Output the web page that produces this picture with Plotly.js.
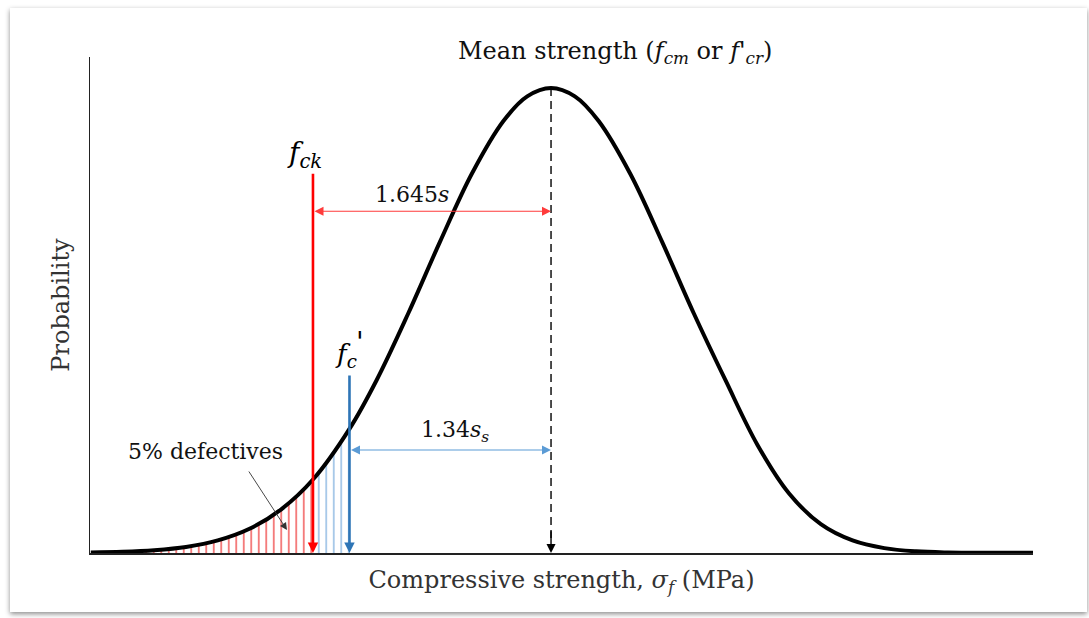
<!DOCTYPE html>
<html>
<head>
<meta charset="utf-8">
<script src="https://cdn.plot.ly/plotly-3.0.1.min.js"></script>
<style>
  html, body { margin: 0; padding: 0; background: #ffffff; }
  #frame {
    position: absolute; left: 10px; top: 8px; width: 1077px; height: 604px;
    background: #ffffff;
    box-shadow: 0 2px 5px rgba(0,0,0,0.45);
  }
</style>
</head>
<body>
<div id="frame"><div id="chart"></div></div>
<script>
// Compressive strength (MPa) sample points along the distribution
const strength = [11, 13, 15, 17, 19, 21, 23, 25, 27.3, 29, 31, 33, 35, 37, 38.5, 40,
                  41.5, 43, 45, 47, 49, 51, 53, 55, 57, 59, 61, 63, 65, 67, 70.4];
// Relative probability (peak = 1)
const probability = [0.001, 0.0025, 0.006, 0.013, 0.027, 0.052, 0.094, 0.158, 0.267, 0.371,
                     0.515, 0.669, 0.815, 0.929, 0.982, 1.0,
                     0.982, 0.929, 0.815, 0.669, 0.515, 0.371, 0.233, 0.128, 0.062, 0.027,
                     0.0105, 0.0036, 0.0011, 0.0003, 0.0005];

// Characteristic values
const fck = 25;       // characteristic strength
const fcPrime = 27.3; // specified strength
const fcm = 40;       // mean strength

const idxFck = strength.indexOf(fck);
const idxFc = strength.indexOf(fcPrime);

const serif = '"DejaVu Serif", "Liberation Serif", serif';

const traces = [
  // red hatching: region below f_ck
  {
    x: strength.slice(0, idxFck + 1), y: probability.slice(0, idxFck + 1),
    type: 'scatter', mode: 'lines', line: {width: 0, shape: 'spline'},
    fill: 'tozeroy', fillcolor: 'rgba(0,0,0,0)',
    fillpattern: {shape: '|', fgcolor: '#f04848', size: 7.5, solidity: 0.18},
    hoverinfo: 'skip', showlegend: false
  },
  // blue hatching: between f_ck and f'_c
  {
    x: strength.slice(idxFck, idxFc + 1), y: probability.slice(idxFck, idxFc + 1),
    type: 'scatter', mode: 'lines', line: {width: 0, shape: 'spline'},
    fill: 'tozeroy', fillcolor: 'rgba(0,0,0,0)',
    fillpattern: {shape: '|', fgcolor: '#86b4e0', size: 7.5, solidity: 0.18},
    hoverinfo: 'skip', showlegend: false
  },
  // the distribution curve
  {
    x: strength, y: probability, type: 'scatter', mode: 'lines',
    line: {color: '#000000', width: 4, shape: 'spline'},
    hoverinfo: 'skip', showlegend: false
  }
];

const yTop = 1.0667;

const annotations = [
  // f_ck marker
  {x: fck, y: 0, ax: fck, ay: 0.819, axref: 'x', ayref: 'y', xref: 'x', yref: 'y',
   text: '', showarrow: true, arrowhead: 2, arrowsize: 0.8, arrowwidth: 2.6, arrowcolor: '#ff0000'},
  // f'_c marker
  {x: fcPrime, y: 0, ax: fcPrime, ay: 0.385, axref: 'x', ayref: 'y', xref: 'x', yref: 'y',
   text: '', showarrow: true, arrowhead: 2, arrowsize: 0.8, arrowwidth: 2.6, arrowcolor: '#2e75b6'},
  // mean arrowhead
  {x: fcm, y: 0, ax: fcm, ay: 0.05, axref: 'x', ayref: 'y', xref: 'x', yref: 'y',
   text: '', showarrow: true, arrowhead: 2, arrowsize: 1.3, arrowwidth: 1.4, arrowcolor: '#000000'},
  // 1.645s span
  {x: fcm, y: 0.735, ax: fck, ay: 0.735, axref: 'x', ayref: 'y', xref: 'x', yref: 'y',
   text: '', showarrow: true, arrowside: 'end+start', arrowhead: 2, arrowsize: 1.5, arrowwidth: 1.2, arrowcolor: '#ff3b3b'},
  // 1.34 s_s span
  {x: fcm, y: 0.2215, ax: fcPrime, ay: 0.2215, axref: 'x', ayref: 'y', xref: 'x', yref: 'y',
   text: '', showarrow: true, arrowside: 'end+start', arrowhead: 2, arrowsize: 1.5, arrowwidth: 1.2, arrowcolor: '#5b9bd5'},
  // pointer to the defective tail
  {x: 23.36, y: 0.0495, ax: 20.9, ay: 0.1785, axref: 'x', ayref: 'y', xref: 'x', yref: 'y',
   text: '', showarrow: true, arrowhead: 2, arrowsize: 1.6, arrowwidth: 0.9, arrowcolor: '#333333'},

  // labels
  {x: 24.45, y: 0.856, xref: 'x', yref: 'y', showarrow: false,
   text: '<i>f</i><sub><i>ck</i></sub>', font: {family: serif, size: 28, color: '#000'}},
  {x: 31.24, y: 0.772, xref: 'x', yref: 'y', showarrow: false,
   text: '1.645<i>s</i>', font: {family: serif, size: 22, color: '#111'}},
  {x: 27.1, y: 0.425, xref: 'x', yref: 'y', showarrow: false,
   text: '<i>f</i><sub><i>c</i></sub>', font: {family: serif, size: 26, color: '#000'}},
  {x: 27.95, y: 0.452, xref: 'x', yref: 'y', showarrow: false,
   text: "<i>'</i>", font: {family: serif, size: 28, color: '#000'}},
  {x: 33.95, y: 0.262, xref: 'x', yref: 'y', showarrow: false,
   text: '1.34<i>s</i><sub><i>s</i></sub>', font: {family: serif, size: 22, color: '#111'}},
  {x: 18.2, y: 0.219, xref: 'x', yref: 'y', showarrow: false,
   text: '5% defectives', font: {family: serif, size: 22, color: '#111'}},
  {x: 44.0, y: 1.01, xref: 'x', yref: 'paper', yanchor: 'middle', showarrow: false,
   text: "Mean strength (<i>f</i><sub><i>cm</i></sub> or <i>f'</i><sub><i>cr</i></sub>)",
   font: {family: serif, size: 24, color: '#111'}}
];

const shapes = [
  // dashed line from the peak down to the axis
  {type: 'line', xref: 'x', yref: 'y', x0: fcm, x1: fcm, y0: probability[strength.indexOf(fcm)], y1: 0.03,
   line: {color: '#000000', width: 1.4, dash: '8px,5px'}}
];

const layout = {
  width: 1077, height: 604,
  margin: {l: 80, r: 54, t: 49, b: 59},
  paper_bgcolor: '#ffffff', plot_bgcolor: '#ffffff',
  font: {family: serif, color: '#222'},
  showlegend: false,
  xaxis: {
    range: [10.95, 70.37], showline: true, linecolor: '#222', linewidth: 1.5,
    showgrid: false, zeroline: false, showticklabels: false, ticks: '',
    title: {text: 'Compressive strength, <i>σ</i><sub><i>f</i></sub> (MPa)',
            font: {family: serif, size: 24, color: '#333'}, standoff: 17}
  },
  yaxis: {
    range: [0, yTop], showline: true, linecolor: '#222', linewidth: 1.5,
    showgrid: false, zeroline: false, showticklabels: false, ticks: '',
    title: {text: 'Probability', font: {family: serif, size: 24, color: '#333'}, standoff: 12}
  },
  annotations: annotations,
  shapes: shapes
};

Plotly.newPlot('chart', traces, layout, {displayModeBar: false, staticPlot: true});
</script>
</body>
</html>
